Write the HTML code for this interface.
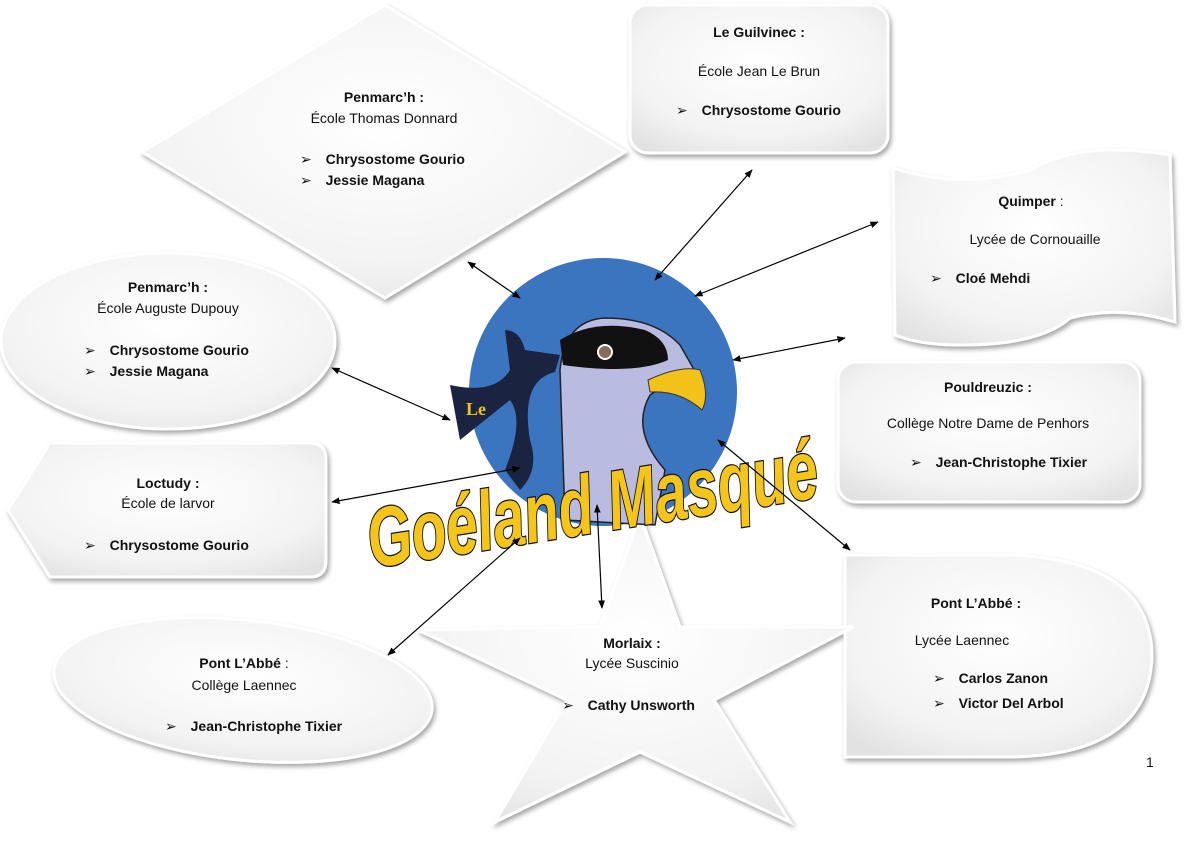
<!DOCTYPE html>
<html><head><meta charset="utf-8"><style>
html,body{margin:0;padding:0;background:#fff}
svg text{font-family:"Liberation Sans",sans-serif;font-size:14px;fill:#111}
.b{font-weight:bold}
</style></head><body>
<svg width="1200" height="853" viewBox="0 0 1200 853" xmlns="http://www.w3.org/2000/svg">
<defs>
<radialGradient id="g" cx="50%" cy="40%" r="70%"><stop offset="0" stop-color="#ffffff"/><stop offset="0.7" stop-color="#f3f3f3"/><stop offset="1" stop-color="#e2e2e2"/></radialGradient>
<filter id="sh" x="-10%" y="-10%" width="120%" height="125%"><feDropShadow dx="2" dy="3" stdDeviation="2.5" flood-color="#000" flood-opacity="0.35"/></filter>
<marker id="a" viewBox="0 0 10 10" refX="9" refY="5" markerWidth="7" markerHeight="7" orient="auto-start-reverse"><path d="M0,1 L10,5 L0,9 z" fill="#000"/></marker>
</defs>
<g fill="url(#g)" stroke="#fff" stroke-width="3" filter="url(#sh)">
<polygon points="385,5 625,152 385,298 142,152"/>
<rect x="630" y="5" width="258" height="148" rx="18"/>
<path d="M893,168 Q960,190 1030,170 Q1080,140 1170,155 L1175,322 Q1120,305 1070,318 Q1040,345 960,345 Q920,345 895,335 Z"/>
<ellipse cx="168" cy="341" rx="167" ry="88"/>
<path d="M50,443 L310,443 Q326,443 326,460 L326,560 Q326,577 310,577 L50,577 L8,510 Z"/>
<rect x="838" y="362" width="302" height="140" rx="18"/>
<path d="M845,555 L1010,555 Q1150,560 1152,655 Q1150,755 1010,757 L845,757 Z"/>
<ellipse cx="243" cy="690" rx="190" ry="70" transform="rotate(6 243 690)"/>
<polygon points="640,515 680,627 853,627 714,700 790,822 640,752 495,822 567,700 418,630 600,627"/>
</g>
<!-- logo -->
<circle cx="603" cy="392" r="134" fill="#3b74bf"/>
<path d="M565,520 L560,370 Q565,320 605,318 Q655,318 680,345 L700,380 Q670,380 650,395 Q630,430 665,470 L655,525 Z" fill="#b9bce0" stroke="#222" stroke-width="1.5"/>
<path d="M560,340 Q595,318 645,330 Q668,340 668,360 Q635,375 563,365 Z" fill="#111"/>
<circle cx="605" cy="352" r="7" fill="#8a6a5a" stroke="#fff" stroke-width="2"/>
<path d="M648,380 Q680,365 700,370 Q710,395 702,410 Q680,390 650,392 Z" fill="#f3c21a" stroke="#333"/>
<path d="M505,330 Q520,330 525,350 L560,355 L555,372 Q520,380 530,440 Q540,470 520,490 L505,470 Q525,420 510,400 L460,440 L450,385 Q495,395 510,370 Z" fill="#1a2440"/>
<text x="466" y="415" style="font-size:18px;font-weight:bold;fill:#f3c21a;font-family:'Liberation Serif',serif">Le</text>
<text x="372" y="568" textLength="455" lengthAdjust="spacingAndGlyphs" transform="rotate(-9 372 568)" style="font-family:'Liberation Sans',sans-serif;font-size:84px;font-style:italic;font-weight:bold;fill:#f6c51a;stroke:#111;stroke-width:2.5;paint-order:stroke">Goéland Masqué</text>
<!-- arrows -->
<g stroke="#000" stroke-width="1.2" marker-start="url(#a)" marker-end="url(#a)">
<line x1="468" y1="262" x2="520" y2="298"/>
<line x1="655" y1="280" x2="752" y2="170"/>
<line x1="695" y1="296" x2="878" y2="222"/>
<line x1="733" y1="360" x2="845" y2="338"/>
<line x1="332" y1="368" x2="450" y2="420"/>
<line x1="332" y1="502" x2="520" y2="468"/>
<line x1="388" y1="655" x2="520" y2="538"/>
<line x1="597" y1="505" x2="602" y2="608"/>
<line x1="718" y1="440" x2="850" y2="550"/>
</g>
<!-- text -->
<text x="384" y="102" text-anchor="middle" class="b">Penmarc’h :</text>
<text x="384" y="123" text-anchor="middle">École Thomas Donnard</text>
<text x="300" y="164">➢ <tspan class="b" dx="10">Chrysostome Gourio</tspan></text>
<text x="300" y="185">➢ <tspan class="b" dx="10">Jessie Magana</tspan></text>
<text x="759" y="37" text-anchor="middle" class="b">Le Guilvinec :</text>
<text x="759" y="76" text-anchor="middle">École Jean Le Brun</text>
<text x="676" y="115">➢ <tspan class="b" dx="10">Chrysostome Gourio</tspan></text>
<text x="1031" y="206" text-anchor="middle"><tspan class="b">Quimper</tspan> :</text>
<text x="1035" y="244" text-anchor="middle">Lycée de Cornouaille</text>
<text x="930" y="283">➢ <tspan class="b" dx="10">Cloé Mehdi</tspan></text>
<text x="168" y="292" text-anchor="middle" class="b">Penmarc’h :</text>
<text x="168" y="313" text-anchor="middle">École Auguste Dupouy</text>
<text x="84" y="355">➢ <tspan class="b" dx="10">Chrysostome Gourio</tspan></text>
<text x="84" y="376">➢ <tspan class="b" dx="10">Jessie Magana</tspan></text>
<text x="988" y="392" text-anchor="middle" class="b">Pouldreuzic :</text>
<text x="988" y="428" text-anchor="middle">Collège Notre Dame de Penhors</text>
<text x="910" y="467">➢ <tspan class="b" dx="10">Jean-Christophe Tixier</tspan></text>
<text x="168" y="488" text-anchor="middle" class="b">Loctudy :</text>
<text x="168" y="508" text-anchor="middle">École de larvor</text>
<text x="84" y="550">➢ <tspan class="b" dx="10">Chrysostome Gourio</tspan></text>
<text x="976" y="608" text-anchor="middle" class="b">Pont L’Abbé :</text>
<text x="962" y="645" text-anchor="middle">Lycée Laennec</text>
<text x="933" y="683">➢ <tspan class="b" dx="10">Carlos Zanon</tspan></text>
<text x="933" y="708">➢ <tspan class="b" dx="10">Victor Del Arbol</tspan></text>
<text x="632" y="648" text-anchor="middle" class="b">Morlaix :</text>
<text x="632" y="668" text-anchor="middle">Lycée Suscinio</text>
<text x="562" y="710">➢ <tspan class="b" dx="10">Cathy Unsworth</tspan></text>
<text x="244" y="668" text-anchor="middle"><tspan class="b">Pont L’Abbé</tspan> :</text>
<text x="244" y="690" text-anchor="middle">Collège Laennec</text>
<text x="165" y="731">➢ <tspan class="b" dx="10">Jean-Christophe Tixier</tspan></text>
<text x="1146" y="767">1</text>
</svg>
</body></html>
